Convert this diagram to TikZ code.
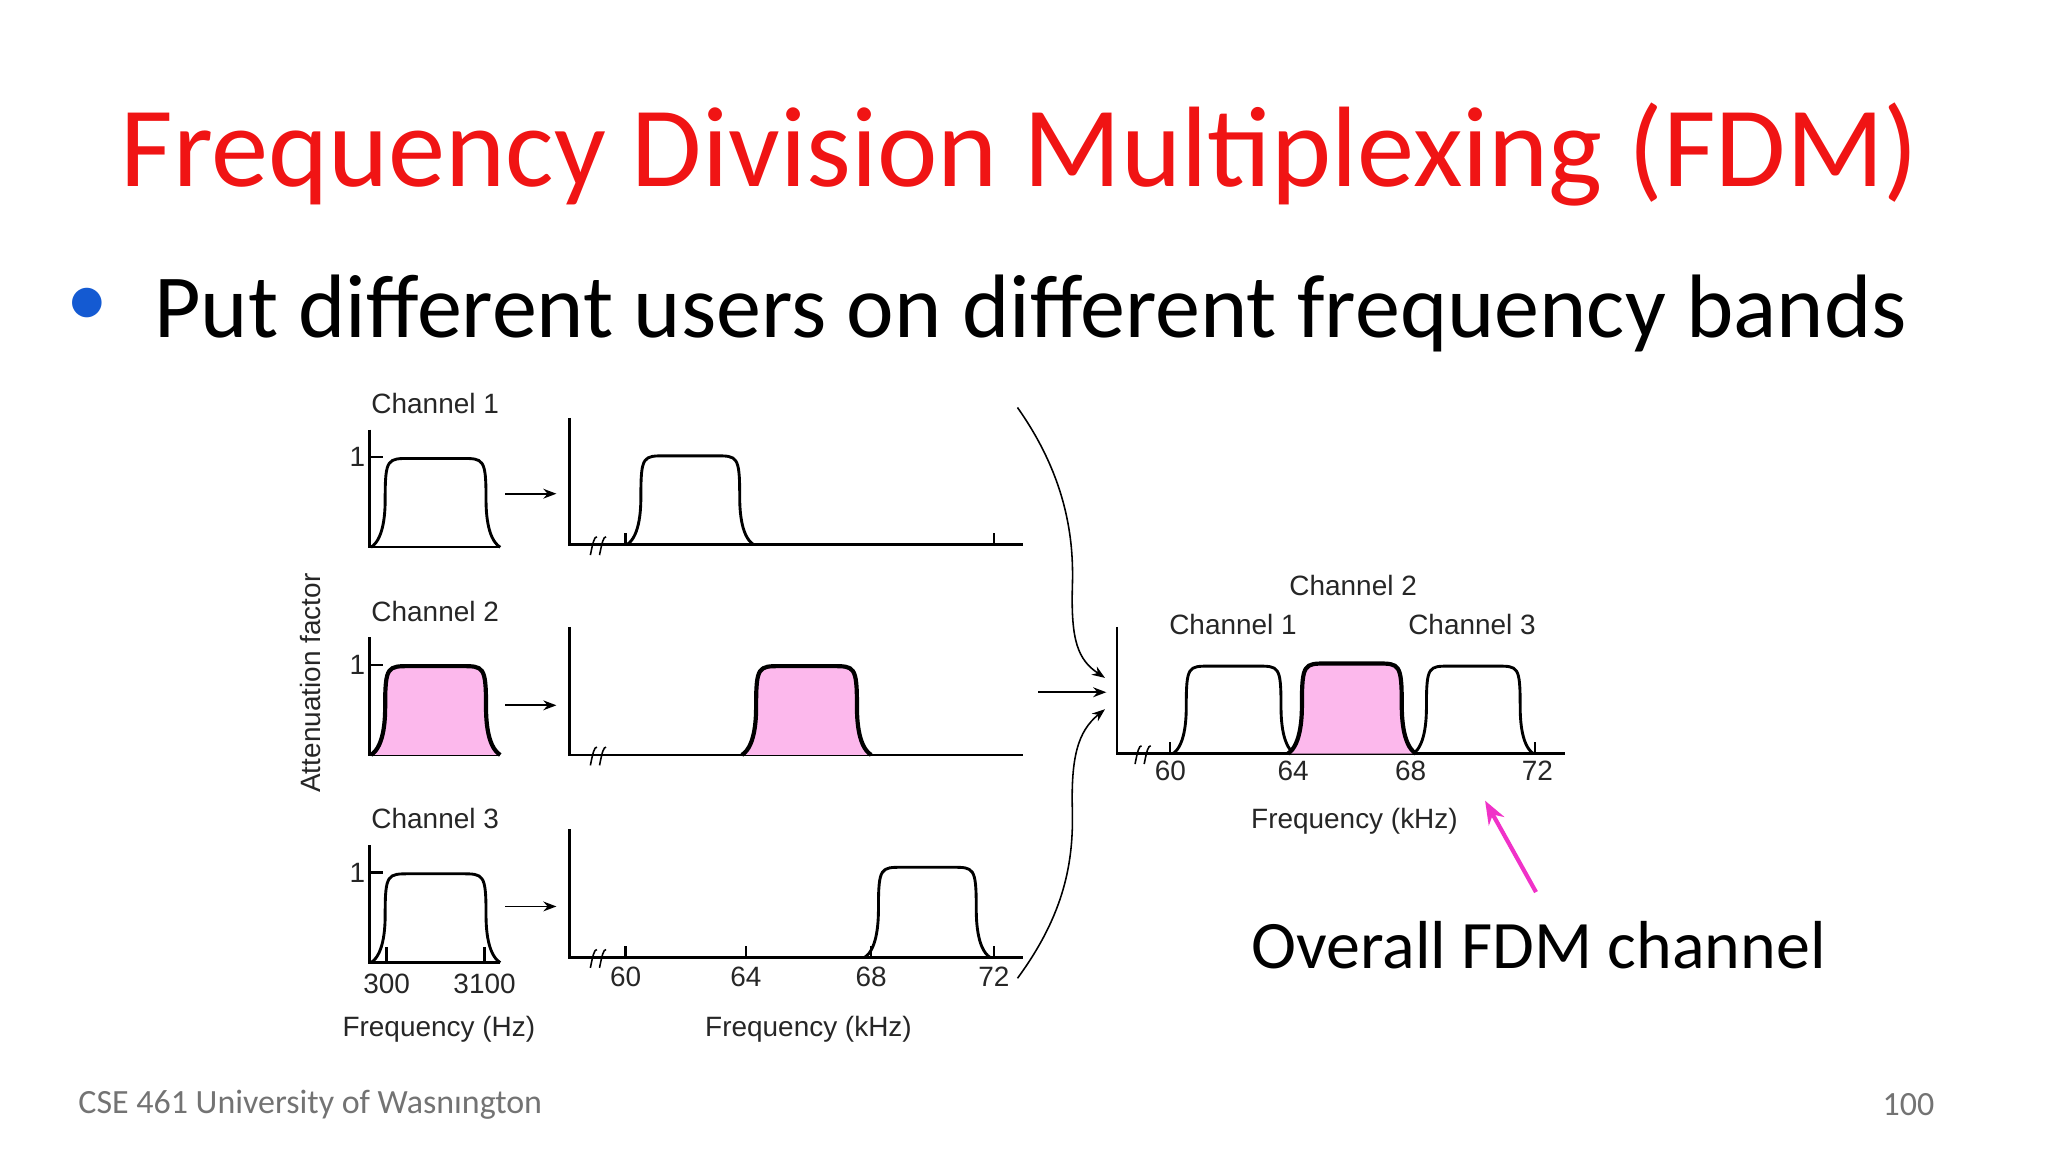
\documentclass[tikz,border=0pt]{standalone}
\usepackage{fontspec}
\setmainfont{Carlito}
\newfontfamily\arial{Liberation Sans}
\usetikzlibrary{arrows.meta}
\definecolor{ttl}{RGB}{240,20,20}
\definecolor{pinkf}{RGB}{252,184,236}
\definecolor{mag}{RGB}{240,50,200}
\definecolor{blt}{RGB}{20,90,210}
\newcommand{\pulse}[5]{% x0 x1 ybase ytop style
  \pgfmathsetmacro{\w}{#2-#1}\pgfmathsetmacro{\h}{#3-#4}
  \pgfmathsetmacro{\xa}{#1+0.11*\w}\pgfmathsetmacro{\xb}{#1+0.13*\w}\pgfmathsetmacro{\xc}{#1+0.30*\w}
  \pgfmathsetmacro{\xd}{#2-0.30*\w}\pgfmathsetmacro{\xe}{#2-0.13*\w}\pgfmathsetmacro{\xf}{#2-0.11*\w}
  \pgfmathsetmacro{\ya}{#3-0.1*\h}\pgfmathsetmacro{\yb}{#3-0.45*\h}
  \path[#5] (#1,#3) .. controls (\xa,\ya) and (\xa,\yb) .. (\xa,#3-0.55*\h)
    .. controls (\xa,#4) and (\xb,#4) .. (\xc,#4) -- (\xd,#4)
    .. controls (\xe,#4) and (\xf,#4) .. (\xf,#3-0.55*\h)
    .. controls (\xf,\yb) and (\xf,\ya) .. (#2,#3);}
\tikzset{lab/.style={font=\arial\fontsize{10.7}{12}\selectfont,text=black!85,inner sep=0pt},
  ax/.style={line width=0.9pt},pl/.style={draw,line width=1.1pt},
  plp/.style={draw,line width=1.6pt,fill=pinkf},
  arr/.style={-{Stealth[length=5pt]},line width=0.7pt}}
\begin{document}
\begin{tikzpicture}[x=0.5pt,y=-0.5pt]
\useasboundingbox (0,0) rectangle (1568,882);
\node[text=ttl,font=\fontsize{43.8}{50}\selectfont] (title) at (781,118) {Frequency Division Multiplexing (FDM)};
\node[text=blt,font=\fontsize{32}{36}\selectfont] (bul) at (67,235) {•};
\node[anchor=west,font=\fontsize{34.5}{40}\selectfont] (sub) at (111,240) {Put different users on different frequency bands};
\node[anchor=west,text=black!55,font=\fontsize{13}{15}\selectfont] (foot) at (53,846) {CSE 461 University of Wasnıngton};
\node[anchor=east,text=black!55,font=\fontsize{13}{15}\selectfont] (pg) at (1488,846) {100};
% left plots
\foreach \yb/\yt/\n in {419/330/1,578/490/2,737/649/3}{
  \draw[ax] (283,\yb-90) -- (283,\yb) -- (383,\yb);
  \draw[ax] (283,\yb-69) -- (293,\yb-69);
  \node[lab,anchor=east] at (280,\yb-69) {1};
  \node[lab,anchor=west] at (284,\yb-110) {Channel \n};
}
\pulse{284}{383}{419}{351}{pl}
\pulse{284}{383}{578}{510}{plp}
\pulse{284}{383}{737}{669}{pl}
\draw[ax] (296,737) -- (296,725); \draw[ax] (371,737) -- (371,725);
\node[lab] at (296,753) {300}; \node[lab] at (371,753) {3100};
\node[lab] at (336,788) {Frequency (Hz)};
\node[lab,rotate=90] at (238,523) {Attenuation factor};
\foreach \y in {378,540,694}{\coordinate (s\y) at (387,\y);\coordinate (t\y) at (426,\y);\draw[arr] (s\y) -- (t\y);}
% middle plots
\foreach \yb/\yt in {417/320,578/480,733/635}{
  \draw[ax] (436,\yt) -- (436,\yb) -- (783,\yb);
  \draw[line width=0.6pt] (452,\yb+8) .. controls (454,\yb-2) and (455,\yb-6) .. (457,\yb-6);
  \draw[line width=0.6pt] (459,\yb+8) .. controls (461,\yb-2) and (462,\yb-6) .. (464,\yb-6);
}
\draw[ax] (479,417) -- (479,408); \draw[ax] (761,417) -- (761,408);
\foreach \x in {479,571,667,761}{\draw[ax] (\x,733) -- (\x,724);}
\pulse{480}{577}{417}{349}{pl}
\pulse{568}{667}{578}{510}{plp}
\pulse{662}{758}{733}{664}{pl}
\foreach \x/\t in {479/60,571/64,667/68,761/72}{\node[lab] at (\x,748) {\t};}
\node[lab] at (619,788) {Frequency (kHz)};
% right plot
\draw[ax] (855,480) -- (855,577) -- (1198,577);
\draw[line width=0.6pt] (869,585) .. controls (871,575) and (872,571) .. (874,571);
\draw[line width=0.6pt] (876,585) .. controls (878,575) and (879,571) .. (881,571);
\draw[ax] (896,577) -- (896,568); \draw[ax] (1175,577) -- (1175,568);
\pulse{898}{991}{577}{510}{pl}
\pulse{986}{1084}{577}{508}{plp}
\pulse{1082}{1174}{577}{510}{pl}
\foreach \x/\t in {896/60,990/64,1080/68,1177/72}{\node[lab] at (\x,590) {\t};}
\node[lab] at (1036,448) {Channel 2};
\node[lab] at (944,478) {Channel 1};
\node[lab] at (1127,478) {Channel 3};
\node[lab] at (1037,629) {Frequency (kHz)};
% connectors
\coordinate (c1) at (779,312); \coordinate (e1) at (846,519);
\coordinate (c3) at (779,749); \coordinate (e3) at (846,543);
\coordinate (m0) at (795,530); \coordinate (m1) at (847,530);
\draw[arr,line width=0.6pt] (c1) .. controls (820,370) and (822,420) .. (821,450) .. controls (820,490) and (825,505) .. (e1);
\draw[arr,line width=0.6pt] (c3) .. controls (815,700) and (822,660) .. (821,620) .. controls (820,580) and (825,560) .. (e3);
\draw[arr,line width=0.9pt] (m0) -- (m1);
\coordinate (pa) at (1176,683); \coordinate (pb) at (1137,613);
\draw[-{Stealth[length=9pt]},mag,line width=1.6pt] (pa) -- (pb);
\node[font=\fontsize{26}{30}\selectfont] (ov) at (1178,724) {Overall FDM channel};
\end{tikzpicture}
\end{document}
